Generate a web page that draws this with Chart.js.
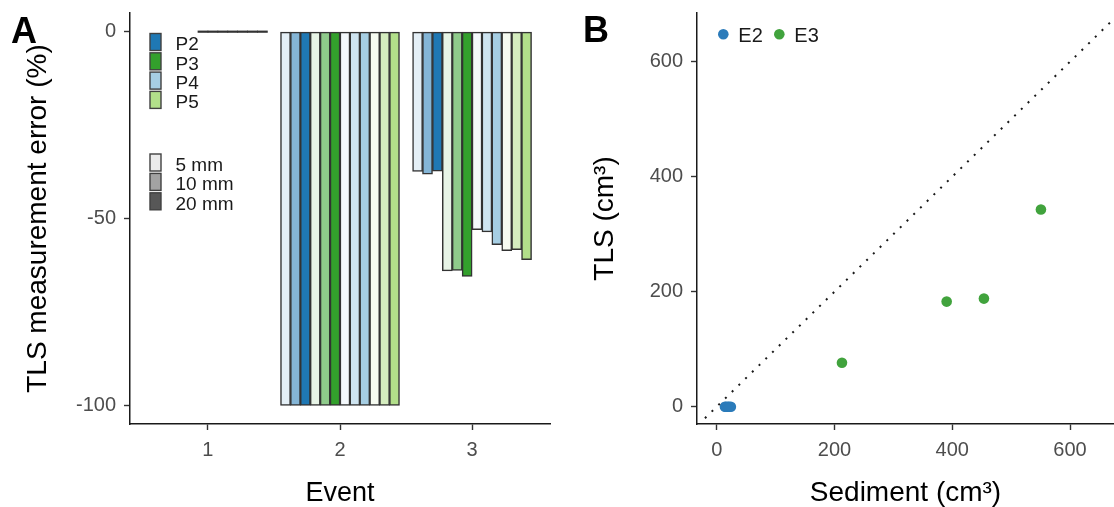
<!DOCTYPE html>
<html>
<head>
<meta charset="utf-8">
<title>TLS error and volume</title>
<script src="https://cdn.jsdelivr.net/npm/chart.js@4"></script>
<style>
  body { margin: 0; background: #fff; }
  #panels { position: relative; width: 1114px; height: 507px; }
  canvas { position: absolute; top: 0; }
</style>
</head>
<body>
<div id="panels">
  <canvas id="chartA" width="557" height="507" style="left:0"></canvas>
  <canvas id="chartB" width="557" height="507" style="left:557px"></canvas>
</div>
<script>
// Panel A: TLS measurement error per event, plot and mesh size
const events = [1, 2, 3];
const plots = ['P2', 'P3', 'P4', 'P5'];
const plotColors = ['#1f78b4', '#33a02c', '#a6cee3', '#b2df8a'];
const meshSizes = ['5 mm', '10 mm', '20 mm'];
const meshAlpha = [0.12, 0.55, 1];
const meshGreys = ['#ebebeb', '#a3a3a3', '#575757'];

// bar order inside an event: P2 5/10/20, P3 5/10/20, P4 5/10/20, P5 5/10/20
const errorEvent1 = [null, null, null, null, null, 0, 0, 0, 0, 0, 0, 0];
const errorEvent2 = [-100, -100, -100, -100, -100, -100, -100, -100, -100, -100, -100, -100];
const errorEvent3 = [-37.4, -38.1, -37.3, -64.0, -63.9, -65.5, -53.0, -53.6, -57.0, -58.6, -58.3, -61.0];
const errorByEvent = [errorEvent1, errorEvent2, errorEvent3];
const errorTicks = [-100, -50, 0];
const eventTicks = [1, 2, 3];

// Panel B: TLS volume against collected sediment
const e2Sediment = [14, 16, 19, 21, 24];
const e2Tls = [0, 0, 0, 0, 0];
const e3Sediment = [212.7, 390.5, 453.8, 550.6];
const e3Tls = [76.3, 182.8, 188.0, 343.0];
const volumeTicks = [0, 200, 400, 600];
const oneToOne = [-20, 700];

const FONT = '"Liberation Sans", Arial, sans-serif';
const OUTLINE = '#333333';
Chart.defaults.font.family = FONT;

// mix a hex colour toward white, same as drawing it with alpha on white
function tint(hex, a) {
    const n = parseInt(hex.slice(1), 16);
    const c = [n >> 16, (n >> 8) & 255, n & 255].map(v => Math.round(255 - a * (255 - v)));
    return 'rgb(' + c.join(',') + ')';
}

function fixedTicks(values) {
    return scale => { scale.ticks = values.map(v => ({ value: v })); };
}

// pin the axis box size and drop the label overhang padding
function fixedSize(prop, size) {
    return scale => {
        scale[prop] = size;
        scale.paddingTop = 0;
        scale.paddingBottom = 0;
        scale.paddingLeft = 0;
        scale.paddingRight = 0;
    };
}

function axisStyle(title, titleSize, titlePad) {
    return {
        offset: false,
        border: { display: true, color: '#1a1a1a', width: 1.5 },
        grid: { drawOnChartArea: false, drawTicks: true, tickLength: 6, tickWidth: 1.4, tickColor: '#333', offset: false },
        ticks: { color: '#4d4d4d', font: { size: 20 }, padding: 8 },
        title: { display: true, text: title, color: '#000', font: { size: titleSize, lineHeight: 1 }, padding: titlePad }
    };
}

// zero-error bars collapse to a flat dark line
const isZero = ctx => ctx.raw && ctx.raw.y === 0;

const barDatasets = [];
plots.forEach((plot, p) => {
    meshSizes.forEach((mesh, m) => {
        const i = p * meshSizes.length + m;
        const fill = tint(plotColors[p], meshAlpha[m]);
        barDatasets.push({
            label: plot + ' ' + mesh,
            data: events.map((e, k) => ({ x: e, y: errorByEvent[k][i] })),
            backgroundColor: ctx => isZero(ctx) ? OUTLINE : fill,
            borderColor: OUTLINE,
            borderWidth: ctx => isZero(ctx) ? 0 : 1.5,
            borderSkipped: false,
            inflateAmount: 0.4,
            minBarLength: 1.4
        });
    });
});

function drawKey(ctx, x, y, fill, text) {
    ctx.fillStyle = fill;
    ctx.fillRect(x, y - 8.5, 11, 17);
    ctx.strokeRect(x, y - 8.5, 11, 17);
    ctx.fillStyle = '#1a1a1a';
    ctx.fillText(text, x + 25.5, y + 3);
}

const legendA = {
    id: 'legendA',
    afterDraw(chart) {
        const ctx = chart.ctx;
        ctx.save();
        ctx.font = '19px ' + FONT;
        ctx.textBaseline = 'middle';
        ctx.lineWidth = 1.4;
        ctx.strokeStyle = '#404040';
        plots.forEach((p, i) => drawKey(ctx, 150, 42 + i * 19.3, plotColors[i], p));
        meshSizes.forEach((m, i) => drawKey(ctx, 150, 162.5 + i * 19.4, meshGreys[i], m));
        ctx.font = 'bold 36px ' + FONT;
        ctx.textBaseline = 'alphabetic';
        ctx.fillStyle = '#000';
        ctx.fillText('A', 11, 43);
        ctx.restore();
    }
};

const legendB = {
    id: 'legendB',
    afterDraw(chart) {
        const ctx = chart.ctx;
        ctx.save();
        ctx.font = '20px ' + FONT;
        ctx.textBaseline = 'middle';
        [['E2', '#2b7bba', 166.3], ['E3', '#41a33d', 222.3]].forEach(([text, color, x]) => {
            ctx.fillStyle = color;
            ctx.beginPath();
            ctx.arc(x, 34.3, 5.3, 0, Math.PI * 2);
            ctx.fill();
            ctx.fillStyle = '#1a1a1a';
            ctx.fillText(text, x + 15, 36);
        });
        ctx.font = 'bold 36px ' + FONT;
        ctx.textBaseline = 'alphabetic';
        ctx.fillStyle = '#000';
        ctx.fillText('B', 26, 42);
        ctx.restore();
    }
};

const xA = axisStyle('Event', 27, { top: 0, bottom: 0 });
const yA = axisStyle('TLS measurement error (%)', 28, { top: 24, bottom: 0 });

new Chart(document.getElementById('chartA'), {
    type: 'bar',
    data: { datasets: barDatasets },
    options: {
        responsive: false,
        animation: false,
        datasets: { bar: { barPercentage: 1.0, categoryPercentage: 0.9 } },
        layout: { autoPadding: false, padding: { top: 13, right: 7, left: 0, bottom: 0 } },
        plugins: { legend: { display: false }, tooltip: { enabled: false } },
        scales: {
            x: Object.assign(xA, {
                type: 'linear', min: 0.41, max: 3.59,
                afterBuildTicks: fixedTicks(eventTicks),
                afterFit: fixedSize('height', 83)
            }),
            y: Object.assign(yA, {
                min: -105, max: 5,
                afterBuildTicks: fixedTicks(errorTicks),
                afterFit: fixedSize('width', 130)
            })
        }
    },
    plugins: [legendA]
});

const xB = axisStyle('Sediment (cm³)', 28, { top: 0, bottom: 0 });
const yB = axisStyle('TLS (cm³)', 28, { top: 34, bottom: 0 });

new Chart(document.getElementById('chartB'), {
    type: 'scatter',
    data: {
        datasets: [
            {
                label: 'E2',
                data: e2Sediment.map((v, i) => ({ x: v, y: e2Tls[i] })),
                backgroundColor: '#2b7bba',
                borderWidth: 0,
                pointRadius: 5.3,
                order: 1
            },
            {
                label: 'E3',
                data: e3Sediment.map((v, i) => ({ x: v, y: e3Tls[i] })),
                backgroundColor: '#41a33d',
                borderWidth: 0,
                pointRadius: 5.3,
                order: 1
            },
            {
                type: 'line',
                label: '1:1',
                data: oneToOne.map(v => ({ x: v, y: v })),
                borderColor: '#1a1a1a',
                borderWidth: 2,
                borderDash: [2, 7.4],
                pointRadius: 0,
                fill: false,
                order: 0
            }
        ]
    },
    options: {
        responsive: false,
        animation: false,
        layout: { autoPadding: false, padding: { top: 13, right: 0, left: 0, bottom: 0 } },
        plugins: { legend: { display: false }, tooltip: { enabled: false } },
        scales: {
            x: Object.assign(xB, {
                type: 'linear', min: -33.5, max: 674.7,
                afterBuildTicks: fixedTicks(volumeTicks),
                afterFit: fixedSize('height', 83)
            }),
            y: Object.assign(yB, {
                min: -30.1, max: 684.7,
                afterBuildTicks: fixedTicks(volumeTicks),
                afterFit: fixedSize('width', 140)
            })
        }
    },
    plugins: [legendB]
});
</script>
</body>
</html>
